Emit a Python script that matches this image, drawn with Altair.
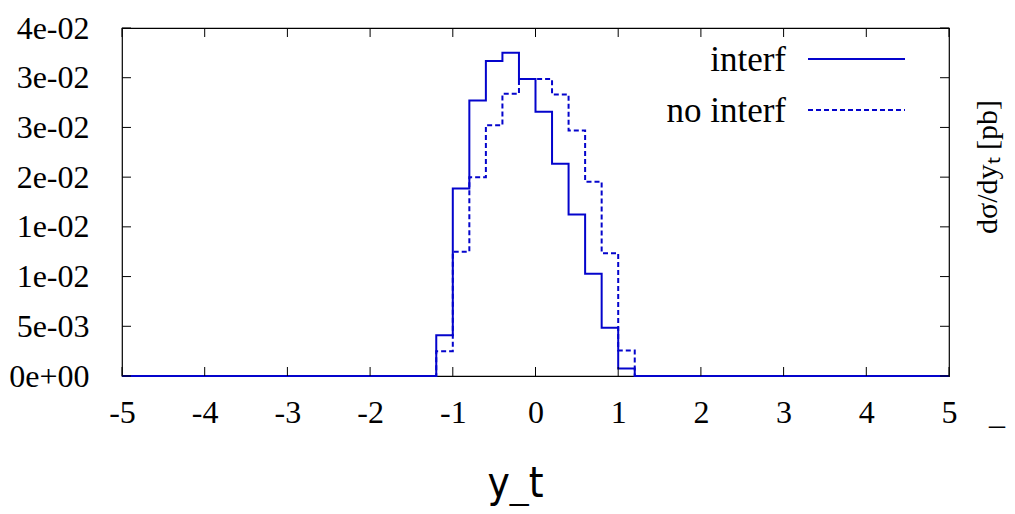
import altair as alt
import pandas as pd

# ---- data ----
bin_edges = [-1.2, -1.0, -0.8, -0.6, -0.4, -0.2, 0.0, 0.2, 0.4, 0.6, 0.8, 1.0, 1.2]
interf = [0.0041, 0.01886, 0.02772, 0.03167, 0.03251, 0.02986,
          0.02658, 0.02135, 0.01625, 0.01028, 0.00485, 0.00075]
no_interf = [0.0025, 0.0125, 0.0200, 0.02523, 0.02839, 0.02986,
             0.02986, 0.02832, 0.0247, 0.01954, 0.01235, 0.00257]
x_min, x_max = -5, 5

x_tick_values = [-5, -4, -3, -2, -1, 0, 1, 2, 3, 4, 5]
y_tick_values = [0, 0.005, 0.01, 0.015, 0.02, 0.025, 0.03, 0.035]
y_tick_labels = ["0e+00", "5e-03", "1e-02", "1e-02", "2e-02", "3e-02", "3e-02", "4e-02"]

legend_labels = ["interf", "no interf"]

W, H = 827, 348
BLUE = "#0404cc"
SERIF = "Liberation Serif"


def step_frame(vals):
    xs = [x_min] + bin_edges + [x_max]
    ys = [0.0] + list(vals) + [0.0, 0.0]
    return pd.DataFrame({"x": xs, "y": ys})


xs = alt.Scale(domain=[x_min, x_max], nice=False, zero=False)
ys = alt.Scale(domain=[0, 0.035], nice=False)

y_label_expr = "[" + ",".join("'%s'" % s for s in y_tick_labels) + "][round(datum.value/0.005)]"
x_label_expr = "datum.value < 0 ? '-' + abs(datum.value) : '' + datum.value"

base_x = alt.X("x:Q", scale=xs,
               axis=alt.Axis(values=x_tick_values, tickSize=0, domain=False, grid=False,
                             labelFont=SERIF, labelFontSize=32, labelColor="black",
                             labelPadding=21, labelFlush=False, labelBaseline="top",
                             labelExpr=x_label_expr,
                             title="y_t", titleFont="DejaVu Sans Condensed, DejaVu Sans",
                             titleFontSize=42, titleFontWeight="normal", titleColor="black",
                             titleX=393, titleY=120, titleBaseline="alphabetic",
                             titleAlign="center", titleAnchor="start"))
base_y = alt.Y("y:Q", scale=ys,
               axis=alt.Axis(values=y_tick_values, tickSize=0, domain=False, grid=False,
                             labelFont=SERIF, labelFontSize=32, labelColor="black",
                             labelPadding=33, labelExpr=y_label_expr, labelFlush=False,
                             title=None))

line_interf = alt.Chart(step_frame(interf)).mark_line(
    interpolate="step-after", color=BLUE, strokeWidth=2).encode(x=base_x, y=base_y)
line_no = alt.Chart(step_frame(no_interf)).mark_line(
    interpolate="step-after", color=BLUE, strokeWidth=2, strokeDash=[5, 3]).encode(
    x=alt.X("x:Q", scale=xs), y=alt.Y("y:Q", scale=ys))

ydf = pd.DataFrame({"v": y_tick_values})
xdf = pd.DataFrame({"v": x_tick_values})
tk = dict(color="black", strokeWidth=1)
ytick_l = alt.Chart(ydf).mark_rule(**tk).encode(
    y=alt.Y("v:Q", scale=ys), x=alt.value(0), x2=alt.value(9))
ytick_r = alt.Chart(ydf).mark_rule(**tk).encode(
    y=alt.Y("v:Q", scale=ys), x=alt.value(W - 9), x2=alt.value(W))
xtick_b = alt.Chart(xdf).mark_rule(**tk).encode(
    x=alt.X("v:Q", scale=xs), y=alt.value(H - 9), y2=alt.value(H))
xtick_t = alt.Chart(xdf).mark_rule(**tk).encode(
    x=alt.X("v:Q", scale=xs), y=alt.value(0), y2=alt.value(9))

# legend
leg_df = pd.DataFrame({"label": legend_labels})
leg_text1 = alt.Chart(leg_df.iloc[[0]]).mark_text(
    font=SERIF, fontSize=35, align="right", baseline="alphabetic", color="black").encode(
    text="label:N", x=alt.value(664), y=alt.value(43))
leg_text2 = alt.Chart(leg_df.iloc[[1]]).mark_text(
    font=SERIF, fontSize=35, align="right", baseline="alphabetic", color="black").encode(
    text="label:N", x=alt.value(664), y=alt.value(94))
leg_line1 = alt.Chart(leg_df.iloc[[0]]).mark_rule(color=BLUE, strokeWidth=2).encode(
    x=alt.value(686), x2=alt.value(783), y=alt.value(31))
leg_line2 = alt.Chart(leg_df.iloc[[1]]).mark_rule(color=BLUE, strokeWidth=2, strokeDash=[5, 3]).encode(
    x=alt.value(686), x2=alt.value(783), y=alt.value(82))

ylabel = alt.Chart(pd.DataFrame({"t": ["dσ/dyₜ [pb]"]})).mark_text(
    font=SERIF, fontSize=30, angle=270, align="center", baseline="alphabetic", color="black").encode(
    text="t:N", x=alt.value(875), y=alt.value(139))
under = alt.Chart(pd.DataFrame({"t": ["_"]})).mark_text(
    font=SERIF, fontSize=32, align="left", baseline="alphabetic", color="black").encode(
    text="t:N", x=alt.value(867), y=alt.value(396))

chart = alt.layer(
    line_no, line_interf, ytick_l, ytick_r, xtick_b, xtick_t,
    leg_text1, leg_text2, leg_line1, leg_line2, ylabel, under
).properties(
    width=W, height=H,
    autosize=alt.AutoSizeParams(type="none"),
    padding={"left": 114, "top": 20, "right": 58, "bottom": 130},
    background="white",
).configure_view(stroke="black", strokeWidth=1.2)

chart.save("out.html", embed_options={"renderer": "svg", "actions": False})
